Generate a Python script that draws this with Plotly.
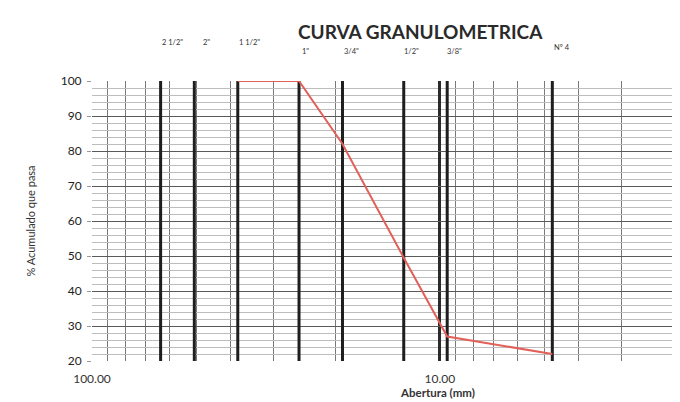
import plotly.graph_objects as go
import math

# ---- data ----
# Sieve openings (mm) and labels
sieve_sizes = [63.5, 50.8, 38.1, 25.4, 19.05, 12.7, 9.525, 4.75]
sieve_labels = ['2 1/2"', '2"', '1 1/2"', '1"', '3/4"', '1/2"', '3/8"', 'Nº 4']

# Grading curve
aperture_mm = [38.1, 25.4, 19.05, 12.7, 9.525, 4.75]
passing_pct = [100, 100, 82, 49.5, 27, 22]

x_ticks = [100, 10]
x_ticktext = ["100.00", "10.00"]
x_minor = [9, 8, 7, 6, 5, 4, 3, 90, 80, 70, 60, 50, 40, 30, 20]

# ---- label layout offsets (styling only) ----
label_yoff = [1.136, 1.136, 1.136, 1.104, 1.104, 1.104, 1.104, 1.118]
label_xshift = [12, 12, 12, 6, 9, 8, 7, 10]

fig = go.Figure()

# Thick sieve lines
for s in sieve_sizes:
    fig.add_trace(go.Scatter(x=[s, s], y=[20, 100], mode="lines",
                             line=dict(color="#1e1e1e", width=3),
                             hoverinfo="skip", showlegend=False))

fig.add_trace(go.Scatter(x=aperture_mm, y=passing_pct, mode="lines",
                         line=dict(color="#e2605a", width=2),
                         showlegend=False))

# note: page body has an 8px default margin, margins compensate for it
fig.update_layout(
    width=680, height=402,
    margin=dict(l=84, r=8, t=73, b=49),
    paper_bgcolor="white", plot_bgcolor="white",
    font=dict(family="Lato, Open Sans, sans-serif", color="#222"),
    xaxis=dict(
        type="log",
        range=[math.log10(100), math.log10(2.04)],
        tickmode="array", tickvals=x_ticks, ticktext=x_ticktext,
        showgrid=True, gridcolor="#2a2a2a", gridwidth=2.5,
        tickfont=dict(size=12, color="#333"),
        ticks="", ticklabelstandoff=9, zeroline=False, showline=False,
        minor=dict(tickmode="array", tickvals=x_minor, showgrid=True,
                   gridcolor="#7a7a7a", gridwidth=1, ticks=""),
    ),
    yaxis=dict(
        range=[20, 100], dtick=10, tick0=20,
        showgrid=True, gridcolor="#5a5a5a", gridwidth=1.3,
        tickfont=dict(size=12, color="#222"),
        title=dict(text="% Acumulado que pasa", font=dict(size=11, color="#333"), standoff=22),
        ticks="outside", ticklen=4, tickcolor="#999", ticklabelstandoff=3,
        zeroline=False, showline=False,
        minor=dict(dtick=2, showgrid=True, gridcolor="#bdbdbd", gridwidth=1),
    ),
)

fig.add_annotation(text="<b>CURVA GRANULOMETRICA</b>", xref="paper", yref="paper",
                   x=0.558, y=1.175, xanchor="center", yanchor="middle", showarrow=False,
                   font=dict(size=19, color="#2a2a2a", family="Lato, Open Sans, sans-serif"))

fig.add_annotation(text="<b>Abertura (mm)</b>", xref="paper", yref="paper",
                   x=0.587, y=-0.114, xanchor="center", yanchor="middle", showarrow=False,
                   font=dict(size=11.5, color="#333"))

for s, lab, ly, xs in zip(sieve_sizes, sieve_labels, label_yoff, label_xshift):
    fig.add_annotation(text=lab, x=math.log10(s), xref="x", yref="paper", y=ly,
                       xanchor="center", yanchor="middle",
                       showarrow=False, xshift=xs,
                       font=dict(size=7.5, color="#333"))

fig.write_html("out.html")
